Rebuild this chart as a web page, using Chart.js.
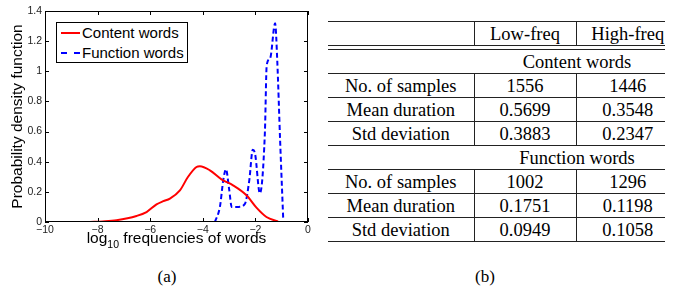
<!DOCTYPE html>
<html><head><meta charset="utf-8">
<script src="https://cdn.jsdelivr.net/npm/chart.js@4.4.0/dist/chart.umd.min.js"></script>
<style>
body{margin:0;background:#fff;width:679px;height:287px;position:relative;overflow:hidden;font-family:'Liberation Serif','Times New Roman',serif;color:#000}
#plot{position:absolute;left:0;top:0;width:320px;height:260px}
.legend{position:absolute;left:56px;top:22px;width:130px;height:39px;border:1px solid #000;background:#fff;font:15px 'Liberation Sans',Arial,sans-serif}
.legend .row{position:absolute;left:0;height:18px;line-height:18px}
.legend .smp{position:absolute;left:4px;top:8px;width:19px;height:0;border-top:2px solid}
.legend .txt{position:absolute;left:25px;top:0;white-space:nowrap}
table{position:absolute;left:328px;top:21px;border-collapse:collapse;table-layout:fixed;font-size:18.5px}
td{padding:0;height:23px;line-height:22px;text-align:center;white-space:nowrap;border-bottom:1px solid #222}
td.c2{border-left:1px solid #222}
td.c3{border-left:1px solid #222;padding-left:14px}
td.grp{padding-left:15px}
tr.top td{border-top:1px solid #222}
tr.gap td{height:3px;line-height:0}
.cap{position:absolute;top:267px;font-size:17px;width:40px;text-align:center}
</style></head>
<body>
<div id="plot"><canvas id="c"></canvas></div>
<div class="legend">
  <div class="row" style="top:1px"><span class="smp" style="border-color:#ff0000"></span><span class="txt">Content words</span></div>
  <div class="row" style="top:21px"><span class="smp" style="border-top:2px dashed #0000ff"></span><span class="txt">Function words</span></div>
</div>
<table id="tbl">
  <colgroup><col style="width:146px"><col style="width:102px"><col style="width:89px"></colgroup>
</table>
<div class="cap" style="left:147px">(a)</div>
<div class="cap" style="left:465px">(b)</div>
<script>
// Content words density (red)
const contentX=[-8.29,-7.8,-7.28,-6.52,-6.14,-5.76,-5.5,-5.25,-4.87,-4.56,-4.24,-4.11,-3.73,-3.29,-2.85,-2.34,-1.96,-1.58,-1.14];
const contentY=[0,0.004,0.012,0.04,0.066,0.117,0.138,0.155,0.21,0.30,0.365,0.37,0.343,0.283,0.243,0.177,0.095,0.033,0.004];
// Function words density (blue dashed)
const functionX=[-3.54,-3.35,-3.22,-3.12,-3.0,-2.90,-2.65,-2.4,-2.23,-2.10,-2.01,-1.83,-1.64,-1.57,-1.44,-1.25,-1.17,-1.06,-0.94];
const functionY=[0,0.10,0.28,0.35,0.22,0.10,0.10,0.12,0.28,0.48,0.45,0.19,0.59,1.04,1.086,1.318,1.075,0.54,0.01];

const xTicks=[-10,-8,-6,-4,-2,0];
const yTicks=[0,0.2,0.4,0.6,0.8,1,1.2,1.4];

// table (b)
const colHeads=['Low-freq','High-freq'];
const groups=['Content words','Function words'];
const rowNames=['No. of samples','Mean duration','Std deviation'];
const lowVals=[['1556','0.5699','0.3883'],['1002','0.1751','0.0949']];
const highVals=[['1446','0.3548','0.2347'],['1296','0.1198','0.1058']];

const tbl=document.getElementById('tbl');
let h='<tr class="top"><td></td><td class="c2">'+colHeads[0]+'</td><td class="c3">'+colHeads[1]+'</td></tr>';
h+='<tr class="gap"><td></td><td></td><td></td></tr>';
groups.forEach((g,gi)=>{
  h+='<tr><td></td><td colspan="2" class="grp">'+g+'</td></tr>';
  rowNames.forEach((r,ri)=>{
    h+='<tr><td>'+r+'</td><td class="c2">'+lowVals[gi][ri]+'</td><td class="c3">'+highVals[gi][ri]+'</td></tr>';
  });
});
tbl.insertAdjacentHTML('beforeend',h);

const pts=(xs,ys)=>xs.map((x,i)=>({x,y:ys[i]}));
const SANS="'Liberation Sans',Arial,sans-serif";

const frame={id:'frame',afterDraw(c){
  const {ctx,chartArea:a,scales:{x,y}}=c;
  ctx.save();
  ctx.strokeStyle='#000';ctx.lineWidth=1;
  ctx.strokeRect(Math.round(a.left)+.5,Math.round(a.top)+.5,Math.round(a.right-a.left)-1,Math.round(a.bottom-a.top)-1);
  ctx.beginPath();
  x.ticks.forEach(t=>{const p=Math.round(x.getPixelForValue(t.value))+.5;
    ctx.moveTo(p,a.bottom);ctx.lineTo(p,a.bottom-4);ctx.moveTo(p,a.top);ctx.lineTo(p,a.top+4);});
  y.ticks.forEach(t=>{const p=Math.round(y.getPixelForValue(t.value))+.5;
    ctx.moveTo(a.left,p);ctx.lineTo(a.left+4,p);ctx.moveTo(a.right,p);ctx.lineTo(a.right-4,p);});
  ctx.stroke();
  // x title with subscript
  ctx.fillStyle='#000';ctx.textBaseline='alphabetic';ctx.textAlign='left';
  const big='15.5px '+SANS,small='10.5px '+SANS;
  ctx.font=big;const w1=ctx.measureText('log').width,w3=ctx.measureText(' frequencies of words').width;
  ctx.font=small;const w2=ctx.measureText('10').width;
  let sx=(a.left+a.right)/2-(w1+w2+w3)/2;const by=243;
  ctx.font=big;ctx.fillText('log',sx,by);
  ctx.font=small;ctx.fillText('10',sx+w1,by+5);
  ctx.font=big;ctx.fillText(' frequencies of words',sx+w1+w2,by);
  // y title
  ctx.translate(18,(a.top+a.bottom)/2);ctx.rotate(-Math.PI/2);
  ctx.textAlign='center';ctx.textBaseline='middle';
  ctx.fillText('Probability density function',0,0);
  ctx.restore();
}};

new Chart(document.getElementById('c'),{
  type:'line',
  data:{datasets:[
    {label:'Content words',data:pts(contentX,contentY),borderColor:'#ff0000',borderWidth:2,
     pointRadius:0,cubicInterpolationMode:'monotone',fill:false},
    {label:'Function words',data:pts(functionX,functionY),borderColor:'#0000ff',borderWidth:2,borderDash:[5,3],
     pointRadius:0,cubicInterpolationMode:'monotone',fill:false}
  ]},
  options:{responsive:true,maintainAspectRatio:false,animation:false,
    layout:{padding:{left:0,right:12,top:11,bottom:0}},
    plugins:{legend:{display:false},tooltip:{enabled:false}},
    scales:{
      x:{type:'linear',min:-10,max:0,grid:{display:false,drawTicks:false},border:{display:false},
         afterBuildTicks:s=>{s.ticks=xTicks.map(v=>({value:v}));},
         afterFit:s=>{s.height=38;},
         ticks:{padding:2,color:'#222',font:{family:SANS,size:10.5},maxRotation:0,
           callback:v=>v<0?'\u2212'+(-v):String(v)}},
      y:{min:0,max:1.4,grid:{display:false,drawTicks:false},border:{display:false},
         afterBuildTicks:s=>{s.ticks=yTicks.map(v=>({value:v}));},
         afterFit:s=>{s.width=45;},
         ticks:{padding:3,color:'#222',font:{family:SANS,size:10.5},
           callback:v=>String(+(+v).toFixed(1))}}
    }},
  plugins:[frame]
});
</script>
</body></html>
